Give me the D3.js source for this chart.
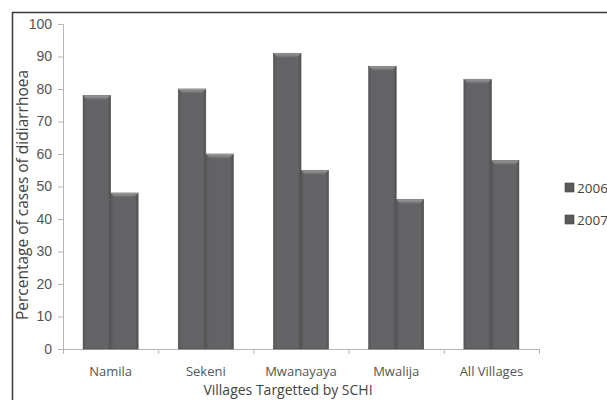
<!DOCTYPE html>
<html>
<head>
<meta charset="utf-8">
<script src="https://cdn.jsdelivr.net/npm/d3@7"></script>
<style>
  body { margin: 0; background: #fff; }
  svg { display: block; font-family: "Open Sans", "Lato", sans-serif; }
</style>
</head>
<body>
<svg id="chart" width="607" height="400"></svg>
<script>
// data
var villages = ['Namila', 'Sekeni', 'Mwanayaya', 'Mwalija', 'All Villages']
var years = ['2006', '2007']
var values2006 = [78, 80, 91, 87, 83]
var values2007 = [48, 60, 55, 46, 58]
var yTicks = [0, 10, 20, 30, 40, 50, 60, 70, 80, 90, 100]

var svg = d3.select('#chart')

// outer frame, runs off the right and bottom edge like the scan
svg.append('rect')
  .attr('x', 12.5).attr('y', 12.5)
  .attr('width', 620).attr('height', 400)
  .attr('fill', 'none').attr('stroke', '#3a3a3a').attr('stroke-width', 1.5)

// plot box (don't call it "top", that's window.top)
var plotL = 63, plotR = 539, plotT = 24, plotB = 349

var x = d3.scaleBand().domain(villages).range([plotL, plotR]).paddingInner(0).paddingOuter(0)
var x1 = d3.scaleBand().domain(years).range([0, x.bandwidth()]).paddingInner(0).paddingOuter(0.73)
var y = d3.scaleLinear().domain([0, 100]).range([plotB, plotT])

// gradient for the bevelled bars
var defs = svg.append('defs')
var grad = defs.append('linearGradient').attr('id', 'barGrad').attr('x1', 0).attr('x2', 1)
grad.append('stop').attr('offset', '0%').attr('stop-color', '#58585a')
grad.append('stop').attr('offset', '12%').attr('stop-color', '#636365')
grad.append('stop').attr('offset', '88%').attr('stop-color', '#646466')
grad.append('stop').attr('offset', '100%').attr('stop-color', '#525254')

var bev = defs.append('linearGradient').attr('id', 'bevGrad').attr('x1', 0).attr('x2', 0).attr('y1', 0).attr('y2', 1)
bev.append('stop').attr('offset', '0%').attr('stop-color', '#9a9a9c')
bev.append('stop').attr('offset', '100%').attr('stop-color', '#6e6e70')

// y axis
var yAxis = d3.axisLeft(y).tickValues(yTicks).tickSize(5).tickPadding(6)
var gy = svg.append('g').attr('transform', 'translate(' + plotL + ',0)').call(yAxis)
gy.select('.domain').attr('stroke', '#b5b5b5')
gy.selectAll('.tick line').attr('stroke', '#b5b5b5')
gy.selectAll('.tick text').attr('fill', '#555').style('font-size', '14px')

// x axis: ticks sit on category boundaries
var bounds = villages.map(function (v) { return x(v) }).concat([plotR])
svg.append('line')
  .attr('x1', plotL).attr('x2', plotR).attr('y1', plotB + 0.5).attr('y2', plotB + 0.5)
  .attr('stroke', '#b5b5b5')
svg.selectAll('.xtick').data(bounds).enter().append('line')
  .attr('class', 'xtick')
  .attr('x1', function (d) { return d + 0.5 }).attr('x2', function (d) { return d + 0.5 })
  .attr('y1', plotB).attr('y2', plotB + 5)
  .attr('stroke', '#b5b5b5')
svg.selectAll('.xlab').data(villages).enter().append('text')
  .attr('class', 'xlab')
  .attr('x', function (d) { return x(d) + x.bandwidth() / 2 })
  .attr('y', 376)
  .attr('text-anchor', 'middle')
  .attr('fill', '#555').style('font-size', '13px')
  .text(function (d) { return d })

// bars
var rows = []
villages.forEach(function (v, i) {
  rows.push({ village: v, year: '2006', value: values2006[i] })
  rows.push({ village: v, year: '2007', value: values2007[i] })
})

var bars = svg.selectAll('.bar').data(rows).enter().append('g').attr('class', 'bar')
  .attr('transform', function (d) { return 'translate(' + (x(d.village) + x1(d.year)) + ',0)' })

bars.append('rect')
  .attr('x', 0).attr('width', x1.bandwidth())
  .attr('y', function (d) { return y(d.value) })
  .attr('height', function (d) { return plotB - y(d.value) })
  .attr('fill', 'url(#barGrad)')
  .attr('stroke', '#4a4a4c').attr('stroke-width', 0.6)

// bevel on top
bars.append('path')
  .attr('d', function (d) {
    var w = x1.bandwidth(), t = y(d.value), b = 4
    return 'M0,' + t + 'L' + w + ',' + t + 'L' + (w - b) + ',' + (t + b) + 'L' + b + ',' + (t + b) + 'Z'
  })
  .attr('fill', 'url(#bevGrad)')

// axis titles
svg.append('text')
  .attr('x', 288).attr('y', 395)
  .attr('text-anchor', 'middle')
  .attr('fill', '#444').style('font-size', '14px')
  .text('Villages Targetted by SCHI')

svg.append('text')
  .attr('transform', 'translate(28,' + 195 + ') rotate(-90)')
  .attr('text-anchor', 'middle')
  .attr('fill', '#444').style('font-size', '15.5px')
  .text('Percentage of cases of didiarrhoea')

// legend
var legend = svg.selectAll('.leg').data(years).enter().append('g').attr('class', 'leg')
  .attr('transform', function (d, i) { return 'translate(565,' + (183 + i * 32) + ')' })
legend.append('rect').attr('width', 9).attr('height', 9)
  .attr('fill', '#5a5a5c').attr('stroke', '#444').attr('stroke-width', 0.6)
legend.append('text').attr('x', 12).attr('y', 10)
  .attr('fill', '#444').style('font-size', '13.5px')
  .text(function (d) { return d })
</script>
</body>
</html>
